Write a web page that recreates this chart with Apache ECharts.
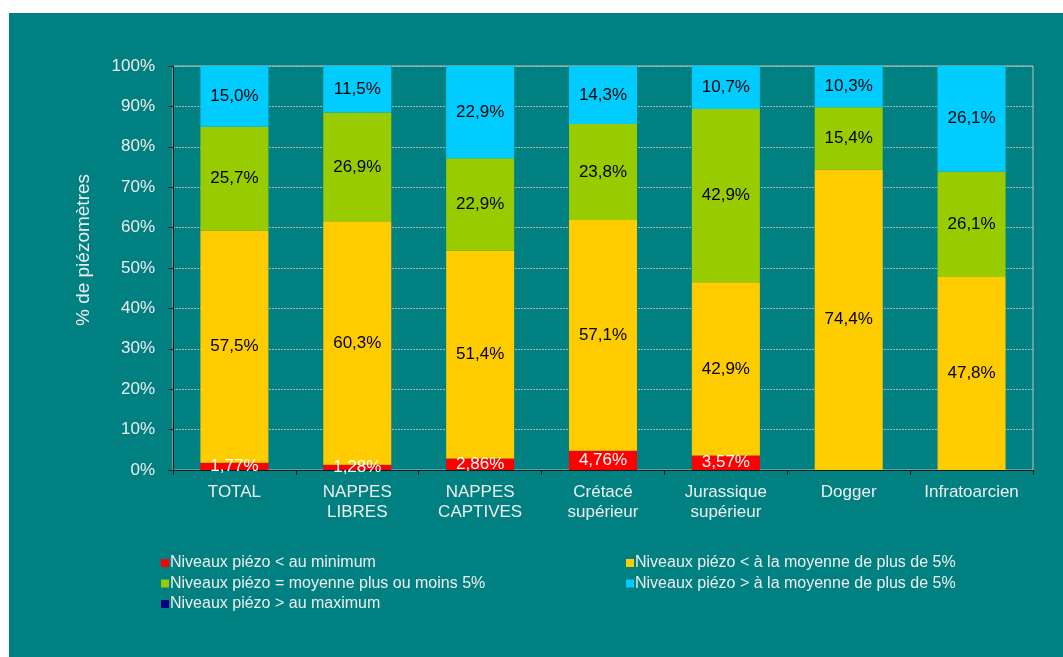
<!DOCTYPE html>
<html>
<head>
<meta charset="utf-8">
<script src="https://cdn.jsdelivr.net/npm/echarts@6/dist/echarts.min.js"></script>
<style>
  html, body { margin: 0; padding: 0; background: #ffffff; }
  #chart { position: absolute; left: 9px; top: 13px; width: 1054px; height: 644px; }
</style>
</head>
<body>
<div id="chart"></div>
<script>
  // categories (aquifères)
  var categories = ['TOTAL', 'NAPPES\nLIBRES', 'NAPPES\nCAPTIVES', 'Crétacé\nsupérieur', 'Jurassique\nsupérieur', 'Dogger', 'Infratoarcien'];
  // % de piézomètres par classe
  var sousMinimum = [1.77, 1.28, 2.86, 4.76, 3.57, 0, 0];
  var sousMoyenne = [57.5, 60.3, 51.4, 57.1, 42.9, 74.4, 47.8];
  var moyenne = [25.7, 26.9, 22.9, 23.8, 42.9, 15.4, 26.1];
  var surMoyenne = [15.0, 11.5, 22.9, 14.3, 10.7, 10.3, 26.1];
  var surMaximum = [0, 0, 0, 0, 0, 0, 0];
  var yTicks = [0, 10, 20, 30, 40, 50, 60, 70, 80, 90, 100];

  var names = [
    'Niveaux piézo < au minimum',
    'Niveaux piézo < à la moyenne de plus de 5%',
    'Niveaux piézo = moyenne plus ou moins 5%',
    'Niveaux piézo > à la moyenne de plus de 5%',
    'Niveaux piézo > au maximum'
  ];
  var font = 'Liberation Sans';
  var lightText = '#eeeeee';

  function pct(digits) {
    return function (p) {
      if (!p.value) return '';
      return p.value.toFixed(digits).replace('.', ',') + '%';
    };
  }

  function barSerie(name, data, color, labelColor, digits) {
    return {
      name: name,
      type: 'bar',
      stack: 'total',
      barWidth: 68,
      data: data,
      itemStyle: { color: color },
      label: {
        show: true,
        position: 'inside',
        color: labelColor,
        fontFamily: font,
        fontSize: 17,
        formatter: pct(digits)
      },
      emphasis: { disabled: true }
    };
  }

  function legendBlock(left, items) {
    return {
      orient: 'vertical',
      left: left, top: 537,
      itemWidth: 8, itemHeight: 8, itemGap: 4.5,
      icon: 'rect',
      data: items,
      textStyle: { color: lightText, fontSize: 16, lineHeight: 16, fontFamily: font, padding: [0, 0, 0, -4] }
    };
  }

  var chart = echarts.init(document.getElementById('chart'));
  var option = {
    backgroundColor: '#008080',
    animation: false,
    textStyle: { fontFamily: font },
    grid: {
      left: 164, top: 53, right: 30, bottom: 187,
      show: true, borderColor: '#c0c0c0', borderWidth: 1, backgroundColor: 'transparent'
    },
    legend: [
      legendBlock(147, [names[0], names[2], names[4]]),
      legendBlock(612, [names[1], names[3]])
    ],
    xAxis: {
      type: 'category',
      data: categories,
      axisLine: { lineStyle: { color: '#1a1a1a', width: 1 } },
      axisTick: { show: true, length: 5, lineStyle: { color: '#1a1a1a' } },
      axisLabel: { color: lightText, fontSize: 17, lineHeight: 20, margin: 12, fontFamily: font }
    },
    yAxis: {
      type: 'value',
      min: yTicks[0], max: yTicks[yTicks.length - 1], interval: 10,
      name: '% de piézomètres',
      nameLocation: 'middle',
      nameGap: 80,
      nameRotate: 90,
      nameTextStyle: { color: lightText, fontSize: 19, fontFamily: font, padding: [0, 0, 0, 36] },
      axisLine: { show: true, lineStyle: { color: '#1a1a1a' } },
      axisTick: { show: true, length: 5, lineStyle: { color: '#1a1a1a' } },
      axisLabel: { color: lightText, fontSize: 17, margin: 18, fontFamily: font, formatter: '{value}%' },
      splitLine: { lineStyle: { color: '#a8b8b8', type: [2, 1], width: 1 } }
    },
    series: [
      barSerie(names[0], sousMinimum, '#ff0000', '#ffffff', 2),
      barSerie(names[1], sousMoyenne, '#ffcc00', '#000000', 1),
      barSerie(names[2], moyenne, '#99cc00', '#000000', 1),
      barSerie(names[3], surMoyenne, '#00ccff', '#000000', 1),
      barSerie(names[4], surMaximum, '#000080', '#ffffff', 1)
    ]
  };
  chart.setOption(option);
</script>
</body>
</html>
